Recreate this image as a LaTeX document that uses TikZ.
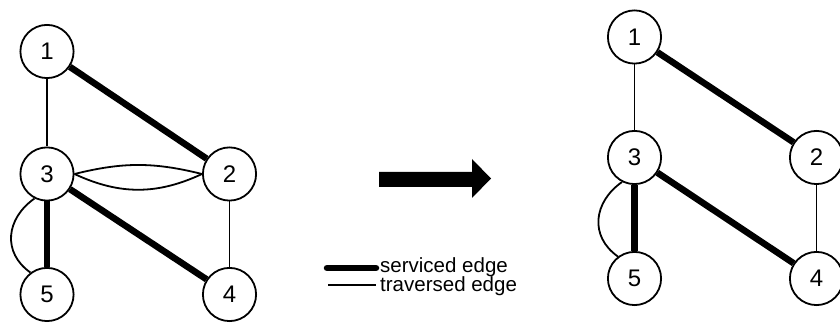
\documentclass[tikz,border=0pt]{standalone}
\usepackage{fontspec}
\setmainfont{Liberation Sans}
\usetikzlibrary{calc}
\tikzset{vtx/.style={draw, circle, line width=1.8pt, minimum size=53.2pt, inner sep=0pt,
    font=\fontsize{24}{28}\selectfont},
  serviced/.style={line width=6.5pt},
  traversed/.style={line width=1.8pt},
  lgd/.style={font=\fontsize{20.5}{24}\selectfont, inner sep=0pt, anchor=base west}}

\begin{document}
\begin{tikzpicture}[x=1pt, y=1pt]
  \useasboundingbox (0,0) rectangle (840,323);
  % graph before
  \node[vtx] (n1) at (47,271.5) {1};
  \node[vtx] (n3) at (47,149) {3};
  \node[vtx] (n2) at (229.5,149) {2};
  \node[vtx] (n5) at (47,28.5) {5};
  \node[vtx] (n4) at (229.5,28.5) {4};
  \draw[traversed] (n1) -- (n3);
  \draw[serviced] (n1) -- (n2);
  \draw[traversed] (n3.east) to[out=14, in=166] (n2.west);
  \draw[traversed] (n3.east) to[out=-25, in=-155] (n2.west);
  \draw[serviced] (n3) -- (n5);
  \draw[traversed] (n3.243) to[out=215, in=145, looseness=1.2] (n5.127);
  \draw[serviced] (n3) -- (n4);
  \draw[traversed] (n2) -- (n4);
  % big arrow
  \fill (379,136) -- (472,136) -- (472,125) -- (491,144.5) -- (472,164) -- (472,151)
    -- (379,151) -- cycle;
  % legend
  \coordinate (sa) at (327,55);
  \coordinate (sb) at (376,55);
  \coordinate (ta) at (328,38);
  \coordinate (tb) at (376,38);
  \draw[serviced, line cap=round] (sa) -- (sb);
  \draw[traversed] (ta) -- (tb);
  \node[lgd] (ls) at (380,50.5) {serviced edge};
  \node[lgd] (lt) at (380,31) {traversed edge};
  % graph after
  \node[vtx] (m1) at (634.5,286) {1};
  \node[vtx] (m3) at (634.5,165.5) {3};
  \node[vtx] (m2) at (816.5,165.5) {2};
  \node[vtx] (m5) at (634.5,44.5) {5};
  \node[vtx] (m4) at (816.5,44.5) {4};
  \draw[traversed] (m1) -- (m3);
  \draw[serviced] (m1) -- (m2);
  \draw[serviced] (m3) -- (m5);
  \draw[traversed] (m3.243) to[out=215, in=145, looseness=1.2] (m5.127);
  \draw[serviced] (m3) -- (m4);
  \draw[traversed] (m2) -- (m4);
\end{tikzpicture}
\end{document}
